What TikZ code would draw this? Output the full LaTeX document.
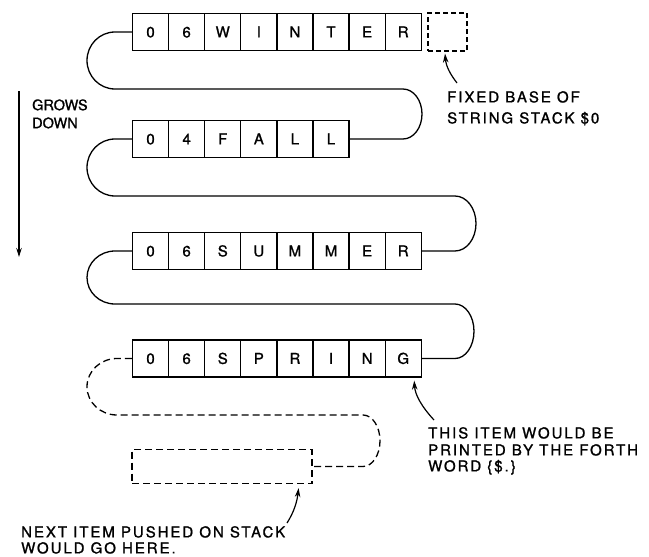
\documentclass[tikz,border=0pt]{standalone}
\usepackage{fontspec}
\newfontfamily\lblfont[LetterSpace=13,FakeBold=1.2]{TeX Gyre Heros}
\newfontfamily\cellfont[FakeBold=1.2]{TeX Gyre Heros}
\usetikzlibrary{arrows.meta}
\begin{document}
\begin{tikzpicture}[x=1pt,y=1pt,
  cell/.style={draw,line width=1.3pt,minimum width=36.1pt,minimum height=37pt,inner sep=0pt,
    font=\cellfont\fontsize{15}{18}\selectfont,text height=10.8pt,text depth=0pt},
  wire/.style={line width=1.3pt},
  dwire/.style={wire,dash pattern=on 7pt off 4pt},
  lbl/.style={anchor=west,inner sep=0pt,font=\lblfont\fontsize{15}{18}\selectfont,text height=10.8pt,text depth=0pt},
  glbl/.style={anchor=west,inner sep=0pt,font=\cellfont\fontsize{14.5}{18}\selectfont,text height=10.4pt,text depth=0pt},
  pointer/.style={line width=1.2pt,-{Stealth[length=9pt,width=5.5pt]}}
]
\useasboundingbox (0,0) rectangle (649,-557);

\def\xo{132.5}\def\cw{36.1}
\foreach \ch [count=\i] in {0,6,W,I,N,T,E,R}
  \node[cell] (w\i) at ({\xo+(\i-0.5)*\cw},-32) {\ch};
\foreach \ch [count=\i] in {0,4,F,A,L,L}
  \node[cell] (f\i) at ({\xo+(\i-0.5)*\cw},-139) {\ch};
\foreach \ch [count=\i] in {0,6,S,U,M,M,E,R}
  \node[cell] (s\i) at ({\xo+(\i-0.5)*\cw},-251) {\ch};
\foreach \ch [count=\i] in {0,6,S,P,R,I,N,G}
  \node[cell] (p\i) at ({\xo+(\i-0.5)*\cw},-358.5) {\ch};

\node[draw,dash pattern=on 5pt off 3pt,line width=1.2pt,minimum width=39pt,minimum height=38pt,inner sep=0pt] (base) at (447.5,-32) {};
\node[draw,dash pattern=on 7pt off 4pt,line width=1.2pt,minimum width=180pt,minimum height=34pt,inner sep=0pt] (next) at (222,-466.5) {};

% serpentine links
\draw[wire] (w1.west) -- (115,-32) arc[start angle=90,end angle=270,x radius=28pt,y radius=28.5pt]
  -- (403,-89) arc[start angle=90,end angle=-90,x radius=19pt,y radius=25pt] -- (f6.east);
\draw[wire] (f1.west) -- (115,-139) arc[start angle=90,end angle=270,x radius=28pt,y radius=28.5pt]
  -- (455,-196) arc[start angle=90,end angle=-90,x radius=21pt,y radius=27.5pt] -- (s8.east);
\draw[wire] (s1.west) -- (115,-251) arc[start angle=90,end angle=270,x radius=28pt,y radius=26.5pt]
  -- (455,-304) arc[start angle=90,end angle=-90,x radius=19pt,y radius=27.25pt] -- (p8.east);
\draw[dwire] (p1.west) -- (117,-358.5) arc[start angle=90,end angle=270,x radius=30pt,y radius=28.25pt]
  -- (363,-415) arc[start angle=90,end angle=-90,x radius=17pt,y radius=25.75pt] -- (next.east);

% grows down
\coordinate (gtop) at (19,-91);
\coordinate (gbot) at (19,-257);
\draw[pointer] (gtop) -- (gbot);
\node[glbl] (grows) at (32,-105) {GROWS};
\node[glbl] (down) at (32,-123) {DOWN};

% labels
\node[lbl] (fixA) at (447,-97) {FIXED BASE OF};
\node[lbl] (fixB) at (447,-118) {STRING STACK \$0};
\node[lbl] (thisA) at (428,-433) {THIS ITEM WOULD BE};
\node[lbl] (thisB) at (428,-450) {PRINTED BY THE FORTH};
\node[lbl] (thisC) at (428,-466) {WORD \{\$.\}};
\node[lbl] (nextA) at (21,-532) {NEXT ITEM PUSHED ON STACK};
\node[lbl] (nextB) at (21,-548) {WOULD GO HERE.};

% pointers
\coordinate (baseTail) at (457,-83);
\draw[pointer] (baseTail) .. controls (450,-74) and (446,-66) .. ([xshift=-2.5pt,yshift=-2pt]base.south);
\coordinate (gTail) at (434,-420);
\draw[pointer] (gTail) .. controls (422,-407) and (415,-395) .. ([xshift=11pt,yshift=-3pt]p8.south);
\coordinate (nTail) at (287,-523);
\draw[pointer] (nTail) .. controls (294,-512) and (297,-502) .. ([xshift=-14pt,yshift=-4pt]next.south east);
\end{tikzpicture}
\end{document}
